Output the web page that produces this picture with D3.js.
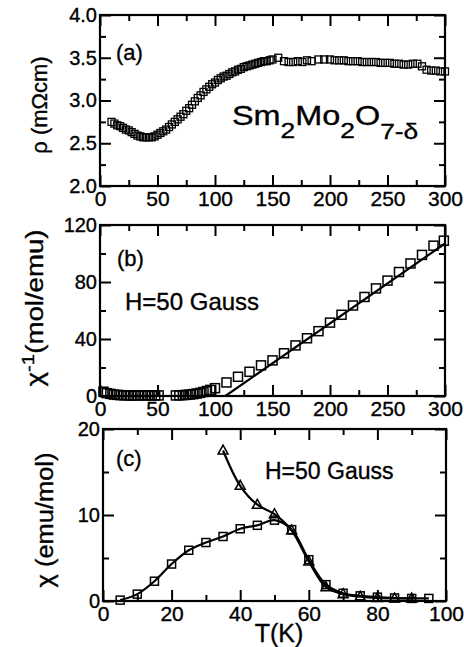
<!DOCTYPE html>
<html><head><meta charset="utf-8">
<script src="https://cdn.jsdelivr.net/npm/d3@7"></script>
<style>
html,body{margin:0;padding:0;background:#fff;}
svg{display:block;}
text{font-family:"Liberation Sans",Arial,sans-serif;fill:#000;stroke:#000;stroke-width:0.35px;}
</style></head>
<body>
<script>
// ---------- DATA ----------
// (a) resistivity
const rhoT = [10,12.5,15,17.5,20,22.5,25,27.5,30,32.5,35,37.5,40,42.5,45,47.5,50,52.5,55,57.5,60,62.5,65,67.5,70,72.5,75,77.5,80,82.5,85,87.5,90,92.5,95,97.5,100,102.5,105,107.5,110,112.5,115,117.5,120,122.5,125,127.5,130,132.5,135,137.5,140,142.5,145,147.5,150,155,160,164,168,172,176,180,184,190,195,200,204,208,212,216,220,224,228,232,236,240,244,248,252,256,260,264,268,272,276,280,284,288,292,296,300];
const rhoV = [2.75,2.73,2.71,2.70,2.68,2.66,2.65,2.63,2.61,2.59,2.58,2.57,2.57,2.57,2.57,2.58,2.60,2.62,2.64,2.66,2.69,2.72,2.75,2.78,2.81,2.84,2.88,2.91,2.95,2.99,3.03,3.06,3.10,3.13,3.16,3.19,3.21,3.24,3.26,3.28,3.29,3.31,3.33,3.34,3.36,3.37,3.39,3.40,3.41,3.42,3.43,3.44,3.45,3.46,3.46,3.47,3.48,3.50,3.46,3.45,3.45,3.46,3.45,3.47,3.46,3.48,3.48,3.48,3.47,3.47,3.47,3.46,3.46,3.46,3.45,3.45,3.45,3.45,3.44,3.44,3.44,3.43,3.43,3.42,3.42,3.43,3.43,3.40,3.36,3.35,3.35,3.34,3.34];
// (b) inverse susceptibility
const invT = [3,6,9,12,15,18,21,24,27,30,33,36,39,42,45,48,51,66,69,72,75,78,81,84,87,90,93,96,100,110,120,130,140,150,160,170,180,190,200,210,220,230,240,250,260,270,280,290,299];
const invV = [3,2,1.5,1,0.8,0.6,0.5,0.5,0.4,0.4,0.4,0.5,0.5,0.5,0.4,0.4,0.4,0.4,0.5,0.6,0.8,1,1.3,1.7,2.2,2.8,3.5,4.3,5.5,9.5,13.5,17,21.5,25,30,35.5,40.5,45.5,51.5,57,63.5,69.5,75.5,81,87,93,99,105.5,109];
const fitT = [109,300];
const fitV = [0,107];
// (c) susceptibility
const sqT = [5,10,15,20,25,30,35,40,45,50,55,60,65,70,75,80,85,90,95];
const sqV = [0.1,0.8,2.3,4.3,5.9,6.8,7.5,8.4,8.8,9.4,8.3,4.8,1.9,0.9,0.6,0.45,0.35,0.3,0.3];
const triT = [35,40,45,50,55,60,65,70,75,80,85,90];
const triV = [17.5,13.4,11.2,10.1,8.2,4.6,1.6,0.8,0.5,0.35,0.3,0.3];

const ticksA_x = [0,50,100,150,200,250,300];
const ticksA_y = [2.0,2.5,3.0,3.5,4.0];
const ticksB_y = [0,40,80,120];
const ticksC_x = [0,20,40,60,80,100];
const ticksC_y = [0,10,20];

// ---------- DRAW ----------
const W = 464, H = 647;
const svg = d3.select("body").append("svg").attr("width", W).attr("height", H);

function panel(o) {
  const x = d3.scaleLinear().domain(o.xd).range([o.x0, o.x1]);
  const y = d3.scaleLinear().domain(o.yd).range([o.y1, o.y0]);
  const g = svg.append("g");
  const MAJ = 11, MIN = 6;
  function ax(axisFn, scale, vals, size, labels, tr, fmt, pad) {
    const a = axisFn(scale).tickValues(vals).tickSize(-size).tickPadding(pad || 5)
      .tickFormat(labels ? fmt : "");
    const gg = g.append("g").attr("transform", tr).call(a);
    gg.select(".domain").remove();
    gg.selectAll(".tick line").attr("stroke", "#000").attr("stroke-width", 2);
    gg.selectAll("text").style("font-family", '"Liberation Sans",Arial,sans-serif').attr("fill", "#000");
    return gg;
  }
  // bottom
  const gb = ax(d3.axisBottom, x, o.xMaj, MAJ, true, `translate(0,${o.y1})`, o.xfmt, 5);
  gb.selectAll("text").style("font-size", o.xfs + "px");
  ax(d3.axisBottom, x, o.xMin, MIN, false, `translate(0,${o.y1})`);
  // top
  ax(d3.axisTop, x, o.xMaj, MAJ, false, `translate(0,${o.y0})`);
  ax(d3.axisTop, x, o.xMin, MIN, false, `translate(0,${o.y0})`);
  // left
  const gl = ax(d3.axisLeft, y, o.yMaj, MAJ, true, `translate(${o.x0},0)`, o.yfmt, 3);
  gl.selectAll("text").style("font-size", o.yfs + "px");
  ax(d3.axisLeft, y, o.yMin, MIN, false, `translate(${o.x0},0)`);
  // right
  ax(d3.axisRight, y, o.yMaj, MAJ, false, `translate(${o.x1},0)`);
  ax(d3.axisRight, y, o.yMin, MIN, false, `translate(${o.x1},0)`);
  // frame
  g.append("rect").attr("x", o.x0).attr("y", o.y0).attr("width", o.x1 - o.x0).attr("height", o.y1 - o.y0)
    .attr("fill", "none").attr("stroke", "#000").attr("stroke-width", 2.2);
  return {g, x, y};
}

function squares(p, T, V, s, sw) {
  p.g.append("g").selectAll("rect").data(T.map((t, i) => [t, V[i]])).join("rect")
    .attr("x", d => p.x(d[0]) - s / 2).attr("y", d => p.y(d[1]) - s / 2)
    .attr("width", s).attr("height", s).attr("fill", "none").attr("stroke", "#000").attr("stroke-width", sw);
}
function triangles(p, T, V, s, sw) {
  p.g.append("g").selectAll("path").data(T.map((t, i) => [t, V[i]])).join("path")
    .attr("d", d => {
      const cx = p.x(d[0]), cy = p.y(d[1]), h = s * 0.9;
      return `M${cx},${cy - h * 0.6}L${cx + s / 2},${cy + h * 0.4}L${cx - s / 2},${cy + h * 0.4}Z`;
    })
    .attr("fill", "none").attr("stroke", "#000").attr("stroke-width", sw);
}
function curve(p, T, V, c) {
  p.g.append("path").datum(T.map((t, i) => [t, V[i]]))
    .attr("d", d3.line().x(d => p.x(d[0])).y(d => p.y(d[1])).curve(c || d3.curveLinear))
    .attr("fill", "none").attr("stroke", "#000").attr("stroke-width", 2.2);
}

// Panel (a)
const pa = panel({x0: 100, x1: 445, y0: 15, y1: 186, xd: [0, 300], yd: [2, 4],
  xMaj: ticksA_x, xMin: [25,75,125,175,225,275], yMaj: ticksA_y, yMin: [2.25,2.75,3.25,3.75],
  xfmt: d3.format("d"), yfmt: d3.format(".1f"), xfs: 21, yfs: 20});
squares(pa, rhoT, rhoV, 7, 1.3);

// Panel (b)
const pb = panel({x0: 100, x1: 445, y0: 225, y1: 396, xd: [0, 300], yd: [0, 120],
  xMaj: ticksA_x, xMin: [25,75,125,175,225,275], yMaj: ticksB_y, yMin: [20,60,100],
  xfmt: d3.format("d"), yfmt: d3.format("d"), xfs: 21, yfs: 20});
curve(pb, fitT, fitV);
squares(pb, invT, invV, 9, 1.5);

// Panel (c)
const pc = panel({x0: 103, x1: 446, y0: 429, y1: 601, xd: [0, 100], yd: [0, 20],
  xMaj: ticksC_x, xMin: [10,30,50,70,90], yMaj: ticksC_y, yMin: [5,15],
  xfmt: d3.format("d"), yfmt: d3.format("d"), xfs: 21, yfs: 20});
curve(pc, sqT, sqV, d3.curveCatmullRom);
curve(pc, triT, triV, d3.curveCatmullRom);
squares(pc, sqT, sqV, 8, 1.5);
triangles(pc, triT, triV, 10, 1.5);

// ---------- TEXT ----------
function txt(x, y, s, fs, anchor) {
  return svg.append("text").attr("x", x).attr("y", y).attr("font-size", fs)
    .attr("text-anchor", anchor || "start").text(s);
}
txt(116, 60, "(a)", 22);
txt(117, 266, "(b)", 22);
txt(116, 466, "(c)", 22);
txt(125, 310, "H=50 Gauss", 24);
txt(265, 479, "H=50 Gauss", 23);

// compound formula
const f = svg.append("text").attr("transform", "translate(232,125) scale(1.2,1)").attr("font-size", 27);
f.append("tspan").text("Sm");
f.append("tspan").attr("font-size", 22).attr("dy", 13).text("2");
f.append("tspan").attr("dy", -13).text("Mo");
f.append("tspan").attr("font-size", 22).attr("dy", 13).text("2");
f.append("tspan").attr("dy", -13).text("O");
f.append("tspan").attr("font-size", 22).attr("dy", 14).text("7-δ");

// axis titles
svg.append("text").attr("transform", "translate(47,105) rotate(-90)").attr("text-anchor", "middle")
  .attr("font-size", 22).text("ρ (mΩcm)");
const tb = svg.append("text").attr("transform", "translate(43,308) rotate(-90)").attr("text-anchor", "middle")
  .attr("font-size", 23).attr("textLength", 157).attr("lengthAdjust", "spacingAndGlyphs");
tb.append("tspan").text("χ");
tb.append("tspan").attr("font-size", 17).attr("dy", -9).text("-1");
tb.append("tspan").attr("dy", 9).text("(mol/emu)");
svg.append("text").attr("transform", "translate(53,520) rotate(-90)").attr("text-anchor", "middle")
  .attr("font-size", 23).attr("textLength", 135).attr("lengthAdjust", "spacingAndGlyphs").text("χ (emu/mol)");
txt(279, 642, "T(K)", 25, "middle");
</script>
</body></html>
